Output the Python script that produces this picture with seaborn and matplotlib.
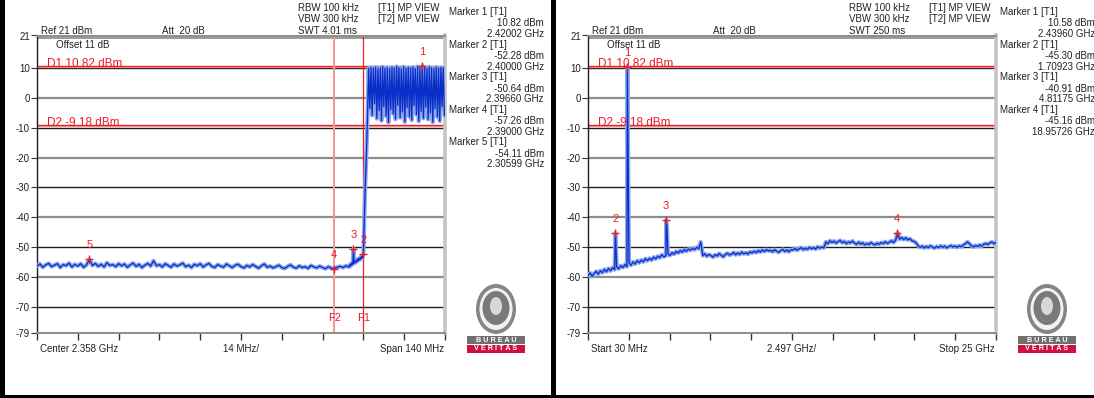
import numpy as np
import pandas as pd
import matplotlib
matplotlib.use("Agg")
import matplotlib.pyplot as plt
import matplotlib.transforms as mtransforms
from matplotlib.patches import Rectangle, Ellipse
import seaborn as sns

# ---------------- data ----------------
# Left plot: Center 2.358 GHz, Span 140 MHz
left_start, left_stop = 2.288, 2.428
# noise floor 2.288 .. 2.395 GHz (1 MHz steps)
left_noise_lvl = [
    -56.4, -55.7, -56.8, -56.0, -55.5, -56.6, -56.1, -55.6, -56.9, -55.9,
    -56.3, -55.4, -56.7, -55.8, -56.4, -55.6, -56.8, -56.0, -54.1, -56.2,
    -55.5, -56.5, -55.8, -56.7, -55.3, -56.2, -55.9, -56.6, -55.6, -56.3,
    -55.7, -56.8, -56.0, -55.4, -56.5, -55.8, -56.9, -56.1, -55.5, -56.4,
    -54.6, -56.3, -55.9, -56.7, -55.6, -56.2, -56.8, -55.7, -56.4, -56.0,
    -55.4, -56.6, -56.1, -56.9, -55.8, -56.3, -55.6, -56.7, -56.0, -55.5,
    -56.5, -56.9, -55.9, -56.4, -56.8, -55.7, -56.3, -56.9, -56.1, -55.8,
    -56.6, -57.0, -56.2, -56.7, -55.9, -56.5, -57.1, -56.3, -55.7, -56.8,
    -56.4, -57.0, -56.6, -56.1, -56.9, -57.2, -56.5, -56.0, -56.8, -57.1,
    -56.3, -56.9, -56.6, -57.2, -56.2, -56.7, -57.0, -56.4, -56.9, -57.3,
    -56.6, -57.1, -57.26, -56.8, -56.5, -56.9, -56.3, -56.7,
]
# band edge 2.3952 .. 2.4000 GHz (0.2 MHz steps)
left_edge_lvl = [
    -56.6, -55.9, -56.3, -55.6, -56.0, -55.2, -55.7, -50.6, -55.4, -54.9,
    -55.3, -54.6, -55.0, -54.3, -54.7, -54.0, -54.4, -53.8, -54.2, -53.5,
    -53.9, -53.2, -53.6, -52.9, -52.3,
]
# in-band 2.4002 .. 2.4278 GHz (0.4 MHz steps)
left_band_lvl = [
    -45.0, -30.2, -19.5, -6.5, 9.9, -3.5, 10.3, -5.8, 10.1, -1.9,
    10.4, -6.9, 9.8, -4.2, 10.2, -7.6, 10.5, -2.8, 10.0, -6.1,
    10.3, -8.2, 9.9, -3.9, 10.4, -5.3, 10.1, -7.1, 10.6, -2.4,
    10.2, -6.6, 9.8, -4.7, 10.5, -8.0, 10.0, -3.2, 10.3, -6.3,
    10.1, -7.4, 10.4, -2.6, 9.9, -5.6, 10.6, -7.8, 10.2, -4.5,
    10.8, -6.8, 10.3, -3.0, 10.0, -7.2, 10.5, -5.0, 10.2, -8.1,
    9.9, -3.6, 10.4, -6.4, 10.1, -7.7, 10.3, -2.9, 10.2, -5.9,
]
left_marker_f = [2.42002, 2.40000, 2.39660, 2.39000, 2.30599]
left_marker_lvl = [10.82, -52.28, -50.64, -57.26, -54.11]
left_marker_names = ["1", "2", "3", "4", "5"]
left_lines_f = [2.390, 2.400]
left_lines_names = ["F2", "F1"]

# Right plot: Start 30 MHz, Stop 25 GHz
right_start, right_stop = 0.03, 25.0
right_lvl = [
    -59.6, -58.7, -59.9, -58.9, -58.2, -59.1, -58.0, -58.6, -57.5, -58.3,
    -57.2, -58.0, -56.9, -57.6, -56.7, -57.3, -56.3, -56.9, -55.9, -56.6,
    -55.4, -56.1, -55.0, -55.7, -54.6, -55.3, -54.4, -55.0, -53.9, -54.6,
    -53.8, -54.4, -53.4, -54.0, -53.1, -53.6, -52.6, -53.3, -52.9, -52.4,
    -52.8, -51.9, -52.4, -51.5, -52.0, -51.2, -51.7, -50.9, -51.4, -50.7,
    -51.1, -50.4, -50.9, -50.1, -50.6, -48.3, -52.9, -52.3, -53.1, -52.5,
    -52.9, -53.4, -52.6, -53.0, -52.2, -52.8, -53.3, -52.5, -52.1, -52.7,
    -52.4, -51.8, -52.6, -52.0, -52.5, -51.7, -52.3, -51.9, -52.4, -51.6,
    -52.0, -51.4, -51.9, -51.2, -51.7, -51.0, -51.5, -50.9, -51.3, -51.1,
    -51.6, -50.9, -51.4, -51.8, -51.2, -50.8, -51.5, -51.0, -51.6, -50.9,
    -51.0, -50.5, -51.1, -50.6, -50.2, -50.9, -50.4, -50.8, -50.1, -50.6,
    -50.2, -50.7, -49.9, -50.4, -50.0, -50.3, -48.3, -48.9, -47.9, -48.5,
    -48.0, -48.7, -48.2, -47.8, -48.6, -48.1, -48.9, -48.3, -48.6, -48.0,
    -48.7, -49.1, -48.4, -49.0, -48.6, -49.3, -48.8, -49.2, -48.5, -49.0,
    -49.3, -48.7, -49.1, -48.5, -48.9, -48.2, -48.8, -48.4, -47.9, -48.5,
    -47.8, -45.2, -47.4, -46.8, -47.5, -46.9, -47.6, -47.2, -47.9, -48.1,
    -48.6, -49.6, -50.1, -49.7, -50.3, -49.8, -50.2, -49.6, -50.0, -50.4,
    -49.8, -50.2, -49.6, -50.1, -49.7, -50.3, -49.9, -49.5, -50.0, -49.7,
    -50.1, -49.6, -49.9, -49.4, -48.9, -48.3, -48.8, -49.6, -50.0, -49.5,
    -49.8, -49.3, -49.7, -49.1, -48.8, -49.2, -48.6, -48.3, -48.9, -48.5,
]
right_spike_f = [1.70923, 2.43960, 4.81175, 4.86]
right_spike_lvl = [-45.30, 10.58, -40.91, -43.2]
right_marker_f = [2.43960, 1.70923, 4.81175, 18.95726]
right_marker_lvl = [10.58, -45.30, -40.91, -45.16]
right_marker_names = ["1", "2", "3", "4"]

d1_lvl, d2_lvl = 10.82, -9.18
y_ticks = [21, 10, 0, -10, -20, -30, -40, -50, -60, -70, -79]

left_header = ["RBW 100 kHz", "VBW 300 kHz", "SWT 4.01 ms"]
right_header = ["RBW 100 kHz", "VBW 300 kHz", "SWT 250 ms"]
view_header = ["[T1] MP VIEW", "[T2] MP VIEW"]
left_marker_text = [("Marker 1 [T1]", "10.82 dBm", "2.42002 GHz"),
                    ("Marker 2 [T1]", "-52.28 dBm", "2.40000 GHz"),
                    ("Marker 3 [T1]", "-50.64 dBm", "2.39660 GHz"),
                    ("Marker 4 [T1]", "-57.26 dBm", "2.39000 GHz"),
                    ("Marker 5 [T1]", "-54.11 dBm", "2.30599 GHz")]
right_marker_text = [("Marker 1 [T1]", "10.58 dBm", "2.43960 GHz"),
                     ("Marker 2 [T1]", "-45.30 dBm", "1.70923 GHz"),
                     ("Marker 3 [T1]", "-40.91 dBm", "4.81175 GHz"),
                     ("Marker 4 [T1]", "-45.16 dBm", "18.95726 GHz")]
left_bottom = ["Center 2.358 GHz", "14 MHz/", "Span 140 MHz"]
right_bottom = ["Start 30 MHz", "2.497 GHz/", "Stop 25 GHz"]

# ---------------- build traces ----------------
left_df = pd.DataFrame({
    "freq": np.concatenate([
        np.linspace(2.288, 2.395, len(left_noise_lvl)),
        np.linspace(2.3952, 2.4000, len(left_edge_lvl)),
        np.linspace(2.4002, 2.4278, len(left_band_lvl))]),
    "lvl": left_noise_lvl + left_edge_lvl + left_band_lvl,
})
right_df = pd.DataFrame({
    "freq": np.concatenate([np.linspace(right_start, right_stop, len(right_lvl)),
                            right_spike_f]),
    "lvl": right_lvl + right_spike_lvl,
}).sort_values("freq")

# ---------------- style ----------------
sns.set_theme(style="white")
plt.rcParams["font.family"] = ["Liberation Sans", "DejaVu Sans"]
W, H = 1094, 398
fig = plt.figure(figsize=(W / 100, H / 100), dpi=100)
fig.patch.set_facecolor("white")

DARK = "#0a2ec8"
LIGHT = "#8ea8ee"
RED = "#ee1c25"
PINK = "#f29a9a"
TXT = "#222222"


def fx(px):
    return px / W


def fy(py):
    return 1 - py / H


def make_panel(left_px, df, xlim, mk_f, mk_lvl, mk_names, header, mk_text,
               bottom, flines=None, flines_names=None, logo_cx=0):
    ax = fig.add_axes([fx(left_px), fy(333.4), 408 / W, (333.4 - 35.5) / H])
    ax.set_xlim(*xlim)
    ax.set_ylim(-79, 21)
    ax.set_facecolor("white")
    # grid lines
    for i, t in enumerate(y_ticks[1:-1]):
        if i % 2 == 0:
            ax.axhline(t, color="#1e1e1e", lw=1.0, zorder=1)
        else:
            ax.axhline(t, color="#8c8c8c", lw=1.6, zorder=1)
    ax.axhline(20.0, color="#9a9a9a", lw=1.4, zorder=1)
    for s in ["top", "bottom"]:
        ax.spines[s].set_color("#8c8c8c")
        ax.spines[s].set_linewidth(1.4)
    ax.spines["left"].set_color("#1e1e1e")
    ax.spines["left"].set_linewidth(1.0)
    ax.spines["right"].set_color("#c4c4c4")
    ax.spines["right"].set_linewidth(2.6)
    ax.set_yticks(y_ticks)
    ax.set_yticklabels([str(t) for t in y_ticks], fontsize=7, color=TXT)
    ax.set_xticks(np.linspace(xlim[0], xlim[1], 11))
    ax.set_xticklabels([])
    ax.tick_params(axis="y", direction="out", length=4, width=0.8,
                   color="#333333", pad=1, left=True)
    ax.tick_params(axis="x", direction="out", length=5, width=1.0,
                   color="#333333", bottom=True)

    # display lines
    trans = mtransforms.blended_transform_factory(ax.transAxes, ax.transData)
    for name, v in [("D1", d1_lvl), ("D2", d2_lvl)]:
        ax.axhline(v - 0.35, color=PINK, lw=1.6, zorder=2)
        ax.axhline(v, color=RED, lw=0.9, zorder=2)
        ax.text(0.025, v - 0.3, f"{name} {v:.2f} dBm", color=RED, fontsize=8.5,
                transform=trans, va="baseline", ha="left", zorder=5)
    if flines is not None:
        transx = mtransforms.blended_transform_factory(ax.transData, ax.transAxes)
        for f, n in zip(flines, flines_names):
            col = PINK if n == "F2" else RED
            ax.axvline(f, color=col, lw=1.5 if n == "F2" else 0.9, zorder=2)
            ax.text(f, 0.052, n, color=RED, fontsize=8, ha="center", va="center",
                    transform=transx, zorder=5)

    # traces (T2 light halo + T1 dark)
    sns.lineplot(data=df, x="freq", y="lvl", ax=ax, color=LIGHT, lw=3.0,
                 estimator=None, sort=False, errorbar=None, zorder=3)
    sns.lineplot(data=df, x="freq", y="lvl", ax=ax, color=DARK, lw=0.95,
                 estimator=None, sort=False, errorbar=None, zorder=4)

    # markers
    sns.scatterplot(x=mk_f, y=mk_lvl, ax=ax, marker="+", color=RED, s=30,
                    linewidth=1.0, zorder=6, legend=False)
    for f, v, n in zip(mk_f, mk_lvl, mk_names):
        ax.annotate(n, (f, v), xytext=(0, 10.0), textcoords="offset points",
                    color=RED, fontsize=8, ha="center", va="center", zorder=6)
    ax.set_xlabel("")
    ax.set_ylabel("")

    ax.text(0.047, 0.968, "Offset 11 dB", transform=ax.transAxes, fontsize=7,
            color=TXT, va="center", ha="left")

    # header texts
    fig.text(fx(left_px + 4), fy(31), "Ref 21 dBm", fontsize=7, color=TXT,
             va="center")
    fig.text(fx(left_px + 125), fy(31), "Att  20 dB", fontsize=7, color=TXT,
             va="center")
    for i, h in enumerate(header):
        fig.text(fx(left_px + 261), fy(8 + 11.5 * i), h, fontsize=7, color=TXT,
                 va="center")
    for i, h in enumerate(view_header):
        fig.text(fx(left_px + 341), fy(8 + 11.5 * i), h, fontsize=7, color=TXT,
                 va="center")
    for i, (a, b, c) in enumerate(mk_text):
        y0 = 12 + 32.6 * i
        fig.text(fx(left_px + 412), fy(y0), a, fontsize=7, color=TXT, va="center")
        fig.text(fx(left_px + 507), fy(y0 + 11.5), b, fontsize=7, color=TXT,
                 va="center", ha="right")
        fig.text(fx(left_px + 507), fy(y0 + 22), c, fontsize=7, color=TXT,
                 va="center", ha="right")
    # bottom labels
    fig.text(fx(left_px + 3), fy(349), bottom[0], fontsize=7, color=TXT,
             va="center", ha="left")
    fig.text(fx(left_px + 204), fy(349), bottom[1], fontsize=7, color=TXT,
             va="center", ha="center")
    fig.text(fx(left_px + 407), fy(349), bottom[2], fontsize=7, color=TXT,
             va="center", ha="right")

    # logo
    cx = logo_cx
    fig.patches.append(Ellipse((fx(cx), fy(309)), 40 / W, 50 / H,
                               transform=fig.transFigure, fc="#858585", ec="none"))
    fig.patches.append(Ellipse((fx(cx), fy(309)), 33 / W, 42 / H,
                               transform=fig.transFigure, fc="#f2f2f2", ec="none"))
    fig.patches.append(Ellipse((fx(cx), fy(308)), 27 / W, 34 / H,
                               transform=fig.transFigure, fc="#7a7a7a", ec="none"))
    fig.patches.append(Ellipse((fx(cx), fy(306)), 12 / W, 18 / H,
                               transform=fig.transFigure, fc="#d8d8d8", ec="none"))
    fig.patches.append(Rectangle((fx(cx - 29), fy(344)), 58 / W, 8 / H,
                                 transform=fig.transFigure, fc="#6f6f6f", ec="none"))
    fig.patches.append(Rectangle((fx(cx - 29), fy(352.5)), 58 / W, 8 / H,
                                 transform=fig.transFigure, fc="#cf1040", ec="none"))
    fig.text(fx(cx), fy(340), "B U R E A U", fontsize=5.2, color="white",
             ha="center", va="center", fontweight="bold")
    fig.text(fx(cx), fy(348.5), "V E R I T A S", fontsize=5.2, color="white",
             ha="center", va="center", fontweight="bold")
    return ax


make_panel(37, left_df, (left_start, left_stop), left_marker_f, left_marker_lvl,
           left_marker_names, left_header, left_marker_text, left_bottom,
           left_lines_f, left_lines_names, logo_cx=496)
make_panel(588, right_df, (right_start, right_stop), right_marker_f,
           right_marker_lvl, right_marker_names, right_header, right_marker_text,
           right_bottom, logo_cx=1047)

# black frame pieces
fig.patches.append(Rectangle((0, 0), 5 / W, 1, transform=fig.transFigure,
                             fc="black", ec="none"))
fig.patches.append(Rectangle((fx(551), 0), 5 / W, 1, transform=fig.transFigure,
                             fc="black", ec="none"))
fig.patches.append(Rectangle((0, 0), 1, 3 / H, transform=fig.transFigure,
                             fc="black", ec="none"))

fig.savefig("out.png", dpi=100, facecolor="white")
